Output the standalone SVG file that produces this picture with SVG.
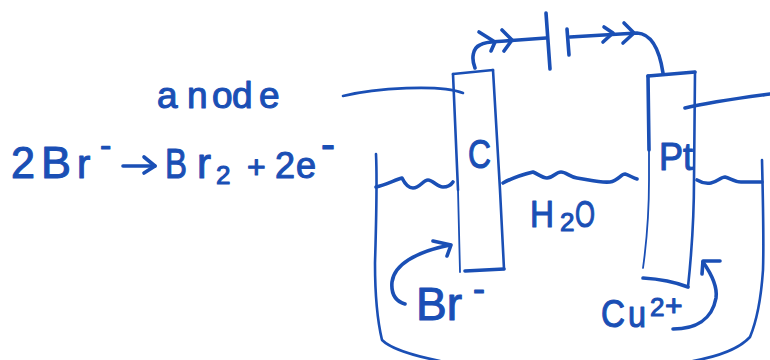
<svg xmlns="http://www.w3.org/2000/svg" width="770" height="360" viewBox="0 0 770 360">
<style>
.s{fill:none;stroke:#1a4fb5;stroke-width:3.6;stroke-linecap:round;stroke-linejoin:round}
.t{stroke-width:2.6}
.l{stroke-width:1.8}
text{font-family:"Liberation Sans",Arial,sans-serif;fill:#1a4fb5;stroke:#1a4fb5;stroke-width:1.1;stroke-linejoin:round}
</style>
<rect width="770" height="360" fill="#fff"/>
<g id="beaker">
<path class="s t" d="M376 154C377 175 376 230 375 263C375 290 376 315 382 340C392 350 415 356 440 361"/>
<path class="s t" d="M762 160C763 200 764 240 763 270C761 300 757 320 750 337C738 350 715 357 693 361"/>
<path class="s" d="M376 187C385 185 395 180 402 178C405 184 408 188 413 188C420 188 423 180 428 180C433 180 437 187 443 187C448 187 451 185 453 182"/>
<path class="s" d="M503 183C512 178 525 174 533 172C538 174 542 178 547 178C553 178 556 172 561 172C566 172 570 177 577 178C590 180 600 183 610 182C618 181 621 174 625 174C629 175 633 178 637 179"/>
<path class="s" d="M697 180C702 183 706 184 711 183C717 182 721 177 725 177C730 178 734 182 741 182L762 182"/>
</g>
<g id="electrode-c">
<path class="s t" d="M453 74L493 70"/>
<path class="s t" d="M453 74L458 190"/>
<path class="s l" d="M458 190L460 272"/>
<path class="s t" d="M493 70L500 190L504 269"/>
<path class="s" d="M465 271L504 269"/>
<text x="468" y="168" font-size="40" textLength="23" lengthAdjust="spacingAndGlyphs">C</text>
</g>
<g id="electrode-pt">
<path class="s" d="M648 76L695 72"/>
<path class="s" d="M648 76L649 150"/>
<path class="s l" d="M649 150L649 180C649 200 649 225 643 268"/>
<path class="s t" d="M695 72L694 180C694 210 693 240 688 287"/>
<path class="s" d="M643 278C660 279 675 282 688 287"/>
<text x="659" y="170" font-size="38" textLength="34" lengthAdjust="spacingAndGlyphs">Pt</text>
</g>
<g id="battery">
<path class="s" d="M546 13L550 69"/>
<path class="s" d="M567 29L569 55"/>
</g>
<g id="connectors">
<path class="s" d="M475 68C471 58 473 48 480 45C487 41 495 42 505 41L546 38"/>
<path class="s" d="M479 32L495 42L491 51"/>
<path class="s" d="M502 30L512 40L504 51"/>
<path class="s" d="M570 37L637 33C653 34 660 53 663 73"/>
<path class="s" d="M604 27L613 33L603 42"/>
<path class="s" d="M624 23L634 33L623 43"/>
<path class="s t" d="M343 96C375 88 440 84 463 93"/>
<path class="s" d="M685 108C710 102 740 98 770 94"/>
<path class="s" d="M405 304C395 301 391 293 392 282C394 265 415 252 450 245"/>
<path class="s" d="M433 241L451 245L447 256"/>
<path class="s" d="M673 329C695 329 712 320 716 298C718 285 710 272 703 262"/>
<path class="s" d="M720 261L703 261L702 274"/>
<path class="s" d="M123 166L155 166"/>
<path class="s" d="M144 157L155 166L144 173"/>
</g>
<g id="labels">
<text x="157 187 212 232 259" y="108" font-size="37">anode</text>
<text x="11" y="178" font-size="44" textLength="24" lengthAdjust="spacingAndGlyphs">2</text>
<text x="41" y="178" font-size="44" textLength="30" lengthAdjust="spacingAndGlyphs">B</text>
<text x="77" y="178" font-size="40">r</text>
<text x="100" y="157" font-size="34">-</text>
<text x="165" y="178" font-size="42" textLength="22" lengthAdjust="spacingAndGlyphs">B</text>
<text x="197" y="178" font-size="42">r</text>
<text x="216" y="184" font-size="26">2</text>
<text x="247" y="178" font-size="32">+</text>
<text x="275 296" y="178" font-size="36">2e</text>
<text x="321" y="159" font-size="42">-</text>
<text x="530" y="227" font-size="36" textLength="24" lengthAdjust="spacingAndGlyphs">H</text>
<text x="560" y="231" font-size="26">2</text>
<text x="575" y="227" font-size="36" textLength="20" lengthAdjust="spacingAndGlyphs">O</text>
<text x="416" y="320" font-size="46" textLength="46" lengthAdjust="spacingAndGlyphs">Br</text>
<text x="473" y="301" font-size="36">-</text>
<text x="601" y="327" font-size="38" textLength="24" lengthAdjust="spacingAndGlyphs">C</text>
<text x="628" y="327" font-size="36" textLength="18" lengthAdjust="spacingAndGlyphs">u</text>
<text x="650" y="316" font-size="26">2</text>
<text x="665" y="316" font-size="30">+</text>
</g>
</svg>
